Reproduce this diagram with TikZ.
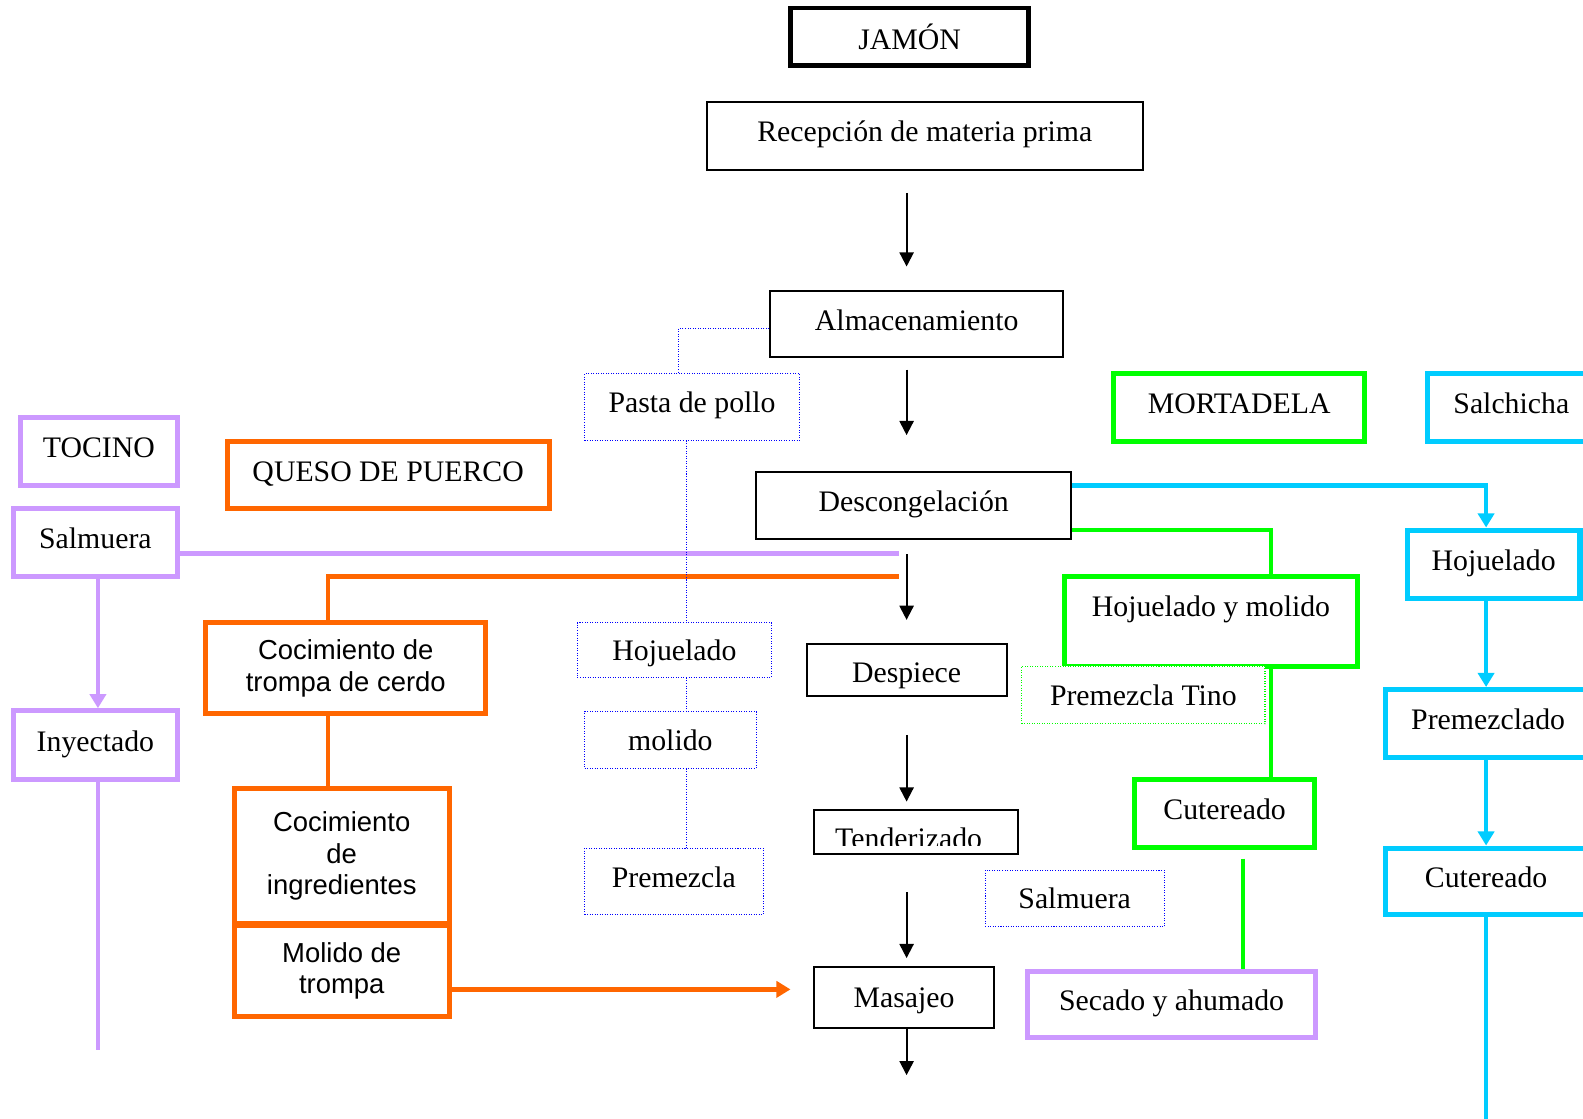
\documentclass[tikz,border=0pt]{standalone}
\usepackage{fontspec}
\setmainfont{Liberation Serif}
\newfontfamily\arialfont{Liberation Sans}
\usetikzlibrary{arrows.meta}
\definecolor{lav}{HTML}{CC99FF}
\definecolor{ora}{HTML}{FF6600}
\definecolor{grn}{HTML}{00FF00}
\definecolor{cyn}{HTML}{00CCFF}
\definecolor{blu}{HTML}{0000FF}
\newcommand\cajafont{\fontsize{29.5}{33}\selectfont}
\newcommand\cajasans{\arialfont\fontsize{27.2}{31}\selectfont}

\begin{document}
\begin{tikzpicture}[x=1pt, y=-1pt, >={Triangle[length=14pt,width=14pt]},
  sz/.style 2 args={minimum width=#1pt, minimum height=#2pt},
  n/.style={draw, fill=white, inner sep=0pt, font=\cajafont},
  t/.style={text height=20pt, text depth=8pt},
  low/.style={text height=24pt, text depth=4pt},
  lower/.style={text height=28pt, text depth=2pt},
  sans/.style={font=\cajasans, align=center},
  blk/.style={n, line width=2pt},
  jam/.style={n, line width=4.5pt},
  bdot/.style={n, draw=blu, line width=1pt, dash pattern=on 1pt off 1.5pt},
  gdot/.style={n, draw=grn, line width=1pt, dash pattern=on 1pt off 1.5pt},
  lbox/.style={n, draw=lav, line width=5pt},
  obox/.style={n, draw=ora, line width=5pt},
  gbox/.style={n, draw=grn, line width=5pt},
  cbox/.style={n, draw=cyn, line width=5pt},
  e/.style={->, line width=2pt},
  ce/.style={-{Triangle[length=14pt,width=16pt]}},
  bline/.style={draw=blu, line width=1pt, dash pattern=on 1pt off 1.5pt},
  lline/.style={draw=lav, line width=4.5pt},
  oline/.style={draw=ora, line width=4.5pt},
  gline/.style={draw=grn, line width=4.5pt},
  cline/.style={draw=cyn, line width=4.5pt}
]
\clip (0,0) rectangle (1568,1108);
\node[jam, lower, sz={236}{57}] (jamon) at (901,36.5) {JAMÓN};
\node[blk, t, sz={432}{67}] (recep) at (916,134.5) {Recepción de materia prima};
\node[blk, t, sz={290}{66}] (almac) at (908,321) {Almacenamiento};
\node[blk, t, sz={312}{66}] (desc) at (905,501) {Descongelación};
\node[blk, lower, sz={198}{51}] (desp) at (898,663.5) {Despiece};
\node[blk, sz={202}{44}] (tend) at (907,824) {};
\begin{scope}
\clip (806,802) rectangle (1008,837);
\node[anchor=base, inner sep=0pt, font=\cajafont] (tendtxt) at (900,840) {Tenderizado};
\end{scope}
\node[blk, low, sz={179}{60}] (masa) at (895.5,988) {Masajeo};
\node[bdot, t, sz={213}{66}] (pasta) at (685.5,403) {Pasta de pollo};
\node[bdot, low, sz={192}{54}] (hojb) at (668,644) {Hojuelado};
\node[bdot, low, sz={170}{56}] (mol) at (664,733) {molido};
\node[bdot, t, sz={177}{66}] (premb) at (667.5,873) {Premezcla};
\node[bdot, low, sz={177}{56}] (salmb) at (1064.5,890) {Salmuera};
\node[gbox, t, sz={249}{67}] (mort) at (1227.5,403.5) {MORTADELA};
\node[gbox, t, text depth=29pt, sz={291}{89}] (hym) at (1199.5,615.5) {Hojuelado y molido};
\node[gdot, low, sz={241}{57}] (ptino) at (1132.5,688.5) {Premezcla Tino};
\node[gbox, t, sz={178}{67}] (cutg) at (1213,805.5) {Cutereado};
\node[lbox, t, sz={285}{66}] (seca) at (1160.5,995) {Secado y ahumado};
\node[cbox, t, sz={166}{67}] (salch) at (1497,403.5) {Salchicha};
\node[cbox, t, sz={171}{68}] (hojc) at (1479.5,559) {Hojuelado};
\node[cbox, t, sz={204}{67}] (premc) at (1474,716.5) {Premezclado};
\node[cbox, t, sz={200}{66}] (cutc) at (1472,873) {Cutereado};
\node[lbox, t, sz={156}{67}] (toc) at (98,447.5) {TOCINO};
\node[lbox, t, sz={163}{67}] (salm) at (94.5,537.5) {Salmuera};
\node[lbox, t, sz={163}{68}] (inyec) at (94.5,738) {Inyectado};
\node[obox, t, sz={319}{67}] (queso) at (384.5,470.5) {QUESO DE PUERCO};
\node[obox, sans, sz={277}{90}] (coc1) at (342.5,662) {Cocimiento de\\trompa de cerdo};
\node[obox, sans, sz={213}{134}] (coc2) at (338.5,848) {Cocimiento\\de\\ingredientes};
\node[obox, sans, sz={213}{90}] (molt) at (338.5,962) {Molido de\\trompa};
\coordinate (fin) at (898,1065);
\coordinate (pv) at ([xshift=-6pt]pasta.south);
\coordinate (cfin) at (1472,1108);
\coordinate (lcol) at ([xshift=2.5pt]salm.south);
\coordinate (lend) at (890,548);
\coordinate (lfin) at (97,1040);
\coordinate (oend) at (890,571);
\coordinate (otip) at (783,980);
\draw[e, shorten <=22pt, shorten >=23pt] (recep.south -| desp) -- (almac.north -| desp);
\draw[e, shorten <=11pt, shorten >=36pt] (almac.south -| desp) -- (desc.north -| desp);
\draw[e, shorten <=14pt, shorten >=23pt] (desc.south -| desp) -- (desp.north);
\draw[e, shorten <=38pt, shorten >=7pt] (desp.south) -- (tend.north -| desp);
\draw[e, shorten <=37pt, shorten >=8pt] (tend.south -| desp) -- (masa.north -| desp);
\draw[e] (masa.south -| desp) -- (fin);
\draw[lline] (salm.east |- lend) -- (lend);
\draw[lline, ce] (lcol) -- (lcol |- inyec.north);
\draw[lline] (lfin |- inyec.south) -- (lfin);
\draw[oline] (oend) -| ([xshift=-17.5pt]coc1.north);
\draw[oline] ([xshift=-17.5pt]coc1.south) -- ([xshift=-17.5pt]coc1.south |- coc2.north);
\draw[oline, ce] (molt.east |- otip) -- (otip);
\draw[bline] ([yshift=-4pt]almac.west) -| ([xshift=-13pt]pasta.north);
\draw[bline] (pv) -- (pv |- hojb.north);
\draw[bline] (pv |- hojb.south) -- (pv |- mol.north);
\draw[bline] (pv |- mol.south) -- (pv |- premb.north);
\draw[gline] ([yshift=-24pt]desc.east) -| ([xshift=59.5pt]hym.north);
\draw[gline] ([xshift=59.5pt]hym.south) -- ([xshift=59.5pt]hym.south |- cutg.north);
\draw[gline, shorten <=9pt] ([xshift=18pt]cutg.south) -- ([xshift=18pt]cutg.south |- seca.north);
\draw[cline, ce] ([yshift=20pt]desc.east) -| (hojc.north -| cutc);
\draw[cline, ce] (hojc.south -| cutc) -- (premc.north -| cutc);
\draw[cline, ce] (premc.south -| cutc) -- (cutc.north);
\draw[cline] (cutc.south) -- (cfin);
\end{tikzpicture}
\end{document}
